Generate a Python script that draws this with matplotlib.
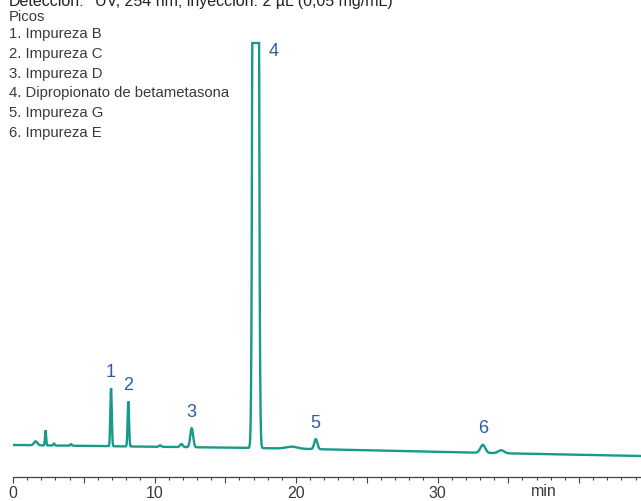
import numpy as np
import matplotlib
matplotlib.use("Agg")
import matplotlib.pyplot as plt
from matplotlib.ticker import MultipleLocator

plt.rcParams['font.family'] = ['Liberation Sans', 'DejaVu Sans']

# --- data (time in min, heights in relative units) ---
peak_times   = [1.6, 2.3, 2.9, 4.1, 6.93, 8.15, 10.4, 11.9, 12.63, 17.15, 19.7, 21.4, 33.2, 34.5]
peak_heights = [4,   15,  2,   1.5, 58,   45,   1.5,  3,    19,    5000,  2,    10,   8,    3]
peak_widths  = [0.12, 0.04, 0.05, 0.06, 0.05, 0.05, 0.08, 0.1, 0.1, 0.11, 0.4, 0.11, 0.17, 0.2]
baseline_t   = [0.0, 17.0, 21.0, 32.0, 44.4]
baseline_y   = [32.0, 29.0, 28.0, 24.5, 21.0]
detector_max = 434.0

labels_num   = ["1", "2", "3", "4", "5", "6"]
labeled_idx  = [4, 5, 8, 9, 11, 12]
peak_names   = ["1. Impureza B", "2. Impureza C", "3. Impureza D",
                "4. Dipropionato de betametasona", "5. Impureza G", "6. Impureza E"]
xticks_major = [0, 10, 20, 30]

# --- build trace ---
t = np.linspace(0, 44.4, 6000)
y = np.interp(t, baseline_t, baseline_y)
for tc, h, w in zip(peak_times, peak_heights, peak_widths):
    y = y + h * np.exp(-0.5 * ((t - tc) / w) ** 2)
y = np.minimum(y, detector_max)

W, H = 641, 501
fig = plt.figure(figsize=(W / 100, H / 100), dpi=100)
ax = fig.add_axes([13 / W, 24 / H, 1 - 13 / W, 477 / H])
line_color = "#17998b"
ax.plot(t, y, color=line_color, lw=1.7, solid_joinstyle='miter')
ax.set_xlim(0, (W - 13) / 14.15)
ax.set_ylim(0, 477)

for s in ["top", "right", "left"]:
    ax.spines[s].set_visible(False)
ax.spines["bottom"].set_color("#444444")
ax.spines["bottom"].set_linewidth(0.9)
ax.set_yticks([])
ax.xaxis.set_major_locator(MultipleLocator(5))
ax.xaxis.set_minor_locator(MultipleLocator(1))
ax.tick_params(axis='x', which='major', length=4.5, width=0.8, color="#444444",
               labelsize=11.5, labelcolor="#3a3a3a", pad=2)
ax.tick_params(axis='x', which='minor', length=2.5, width=0.8, color="#444444")
ax.set_xticklabels([str(int(v)) if int(v) in xticks_major else "" for v in ax.get_xticks()])
ax.text(37.5, -15, "min", ha='center', va='center', fontsize=11.5, color="#3a3a3a")

label_color = "#2f5c9f"
for lab, i in zip(labels_num, labeled_idx):
    tc = peak_times[i]
    top = min(np.interp(tc, baseline_t, baseline_y) + peak_heights[i], detector_max)
    if lab == "4":
        ax.annotate(lab, (tc, top), xytext=(13, -8), textcoords='offset pixels',
                    ha='left', va='center', fontsize=13, color=label_color)
    else:
        ax.annotate(lab, (tc, top), xytext=(0, 16), textcoords='offset pixels',
                    ha='center', va='center', fontsize=13, color=label_color)

# header text (top line is cut off by the image edge, as in the original)
fig.text(9 / W, 1 - 6 / H, "Detección:", ha='left', va='baseline', fontsize=11.5,
         color="#222222")
fig.text(95 / W, 1 - 6 / H, "UV, 254 nm; inyección: 2 µL (0,05 mg/mL)", ha='left',
         va='baseline', fontsize=11.5, color="#222222")
fig.text(9 / W, 1 - 17 / H, "Picos", ha='left', va='center', fontsize=10.7, color="#3a3a3a")
for k, name in enumerate(peak_names):
    fig.text(9 / W, 1 - (34 + 19.8 * k) / H, name, ha='left', va='center',
             fontsize=10.7, color="#3a3a3a")

fig.savefig("out.png", dpi=100)
